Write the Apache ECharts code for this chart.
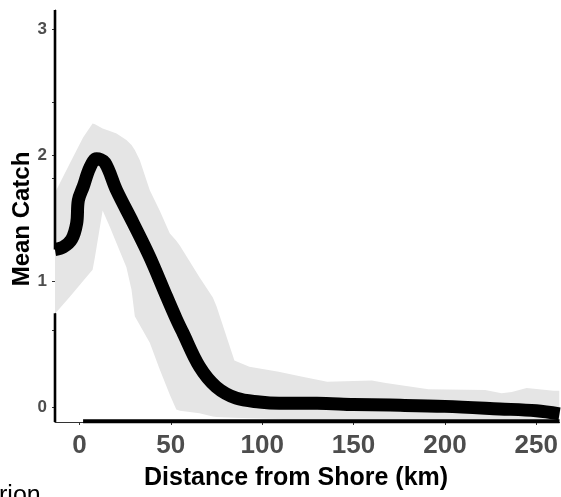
<!DOCTYPE html>
<html>
<head>
<meta charset="utf-8">
<script src="https://cdn.jsdelivr.net/npm/echarts@6/dist/echarts.min.js"></script>
<style>
html,body{margin:0;padding:0;background:#fff;}
#chart{width:561px;height:497px;}
</style>
</head>
<body>
<div id="chart"></div>
<script>
// ---- data ----
var xTickValues = [0, 50, 100, 150, 200, 250];
var yTickValues = [0, 1, 2, 3];
var yRugTicks = [0.61, 1.815, 2.415];

// fitted mean curve
var lineX = [-13.4, -8.8, -4.3, -1.5, -0.6, 2.1, 5.7, 9.4, 13.9, 20.3, 29.4, 38.5, 47.6, 53, 56.6, 65.7, 74.8, 85.8, 98.5, 109.4, 130, 150, 170, 200, 230, 250, 262.7];
var lineY = [1.25, 1.27, 1.33, 1.46, 1.64, 1.75, 1.90, 1.97, 1.94, 1.72, 1.46, 1.19, 0.88, 0.70, 0.59, 0.32, 0.16, 0.07, 0.04, 0.03, 0.03, 0.02, 0.015, 0.005, -0.015, -0.03, -0.055];

// confidence band
var bandX =     [-13.4, -5,   2,    7.2,  8.5,   12.7, 16.6, 20.3, 25.7, 28.5, 30.3, 33,   38.5, 43.9, 49.4, 53,    55,    65.7,  73,     75,    84.8,   93,    109,    122,   135.6, 160,   167.6, 191,   222,   231,   236.6, 244.7, 259.4, 262.7];
var bandLower = [0.74,  0.88, 1.00, 1.09, 1.19,  1.56, 1.43, 1.30, 1.11, 0.93, 0.72, 0.65, 0.51, 0.30, 0.10, -0.02, -0.03, -0.05, -0.075, -0.08, -0.085, -0.09, -0.095, -0.14, -0.14, -0.14, -0.14, -0.14, -0.14, -0.14, -0.14, -0.14, -0.14, -0.14];
var bandUpper = [1.70,  1.94, 2.14, 2.25, 2.245, 2.21, 2.19, 2.17, 2.12, 2.08, 2.04, 1.96, 1.72, 1.56, 1.38, 1.32,  1.28,  1.03,  0.87,   0.80,  0.37,   0.32,  0.28,   0.24,  0.20,  0.21,  0.19,  0.14,  0.135, 0.11,  0.12,  0.15,  0.13,  0.13];

// rug extents along the axes
var xRugRange = [2, 262.7];
var yRugRanges = [[-0.119, 0.744], [1.25, 3.151]];

// axis ranges
var xMin = -13.37, xMax = 262.7;
var yMin = -0.119, yMax = 3.151;

// ---- build ----
var FONT = 'Liberation Sans, Arial, Helvetica, sans-serif';
var lineData = lineX.map(function (x, i) { return [x, lineY[i]]; });
var bandData = bandX.map(function (x, i) { return [x, bandLower[i], bandUpper[i]]; });

function renderBand(params, api) {
  if (params.dataIndex !== 0) return null;
  var pts = [];
  for (var i = 0; i < bandData.length; i++) pts.push(api.coord([bandData[i][0], bandData[i][2]]));
  for (var j = bandData.length - 1; j >= 0; j--) pts.push(api.coord([bandData[j][0], bandData[j][1]]));
  var cs = params.coordSys;
  return {
    type: 'polygon',
    shape: { points: pts },
    style: { fill: '#e5e5e5', stroke: null },
    clipPath: { type: 'rect', shape: { x: cs.x, y: cs.y, width: cs.width, height: cs.height } },
    silent: true
  };
}

var rugSeries = [];
rugSeries.push({
  type: 'line', data: [[xRugRange[0], yMin + 0.006], [xRugRange[1], yMin + 0.006]],
  symbol: 'none', clip: false, silent: true, z: 5,
  lineStyle: { color: '#000', width: 4 }
});
yRugRanges.forEach(function (r) {
  rugSeries.push({
    type: 'line', data: [[xMin, r[0]], [xMin, r[1]]],
    symbol: 'none', clip: false, silent: true, z: 5,
    lineStyle: { color: '#000', width: 2.6 }
  });
});

var chart = echarts.init(document.getElementById('chart'), null, { renderer: 'canvas' });
chart.setOption({
  animation: false,
  backgroundColor: '#ffffff',
  grid: { left: 55, right: 0, top: 10, bottom: 75, containLabel: false },
  xAxis: {
    type: 'value', min: xMin, max: xMax,
    axisLine: { show: true, onZero: false, lineStyle: { color: '#333', width: 1 } },
    axisTick: { show: true, length: 3, customValues: xTickValues, lineStyle: { color: '#333', width: 1 } },
    axisLabel: { customValues: xTickValues, color: '#4d4d4d', fontWeight: 'bold', fontSize: 26, fontFamily: FONT, margin: 11 },
    splitLine: { show: false }
  },
  yAxis: {
    type: 'value', min: yMin, max: yMax,
    axisLine: { show: true, onZero: false, lineStyle: { color: '#333', width: 1 } },
    axisTick: { show: true, length: 3, customValues: yTickValues.concat(yRugTicks), lineStyle: { color: '#333', width: 1 } },
    axisLabel: { customValues: yTickValues, color: '#4d4d4d', fontWeight: 'bold', fontSize: 17, fontFamily: FONT, margin: 8 },
    splitLine: { show: false }
  },
  series: [
    {
      name: 'band', type: 'custom', data: bandData, renderItem: renderBand,
      encode: { x: 0, y: [1, 2] }, silent: true, z: 1
    },
    {
      name: 'Mean Catch', type: 'line', data: lineData, symbol: 'none', smooth: 0.35,
      lineStyle: { color: '#000', width: 13, cap: 'butt', join: 'round' }, z: 3
    }
  ].concat(rugSeries),
  graphic: [
    { type: 'text', x: 296, y: 478, style: { text: 'Distance from Shore (km)', font: 'bold 25px ' + FONT, fill: '#000', align: 'center', verticalAlign: 'middle' } },
    { type: 'text', x: 22, y: 219, rotation: Math.PI / 2, style: { text: 'Mean Catch', font: 'bold 24px ' + FONT, fill: '#000', align: 'center', verticalAlign: 'middle' } },
    { type: 'text', x: -1, y: 484, style: { text: 'rion', font: '25px ' + FONT, fill: '#000', align: 'left', verticalAlign: 'top' } }
  ]
});
</script>
</body>
</html>
